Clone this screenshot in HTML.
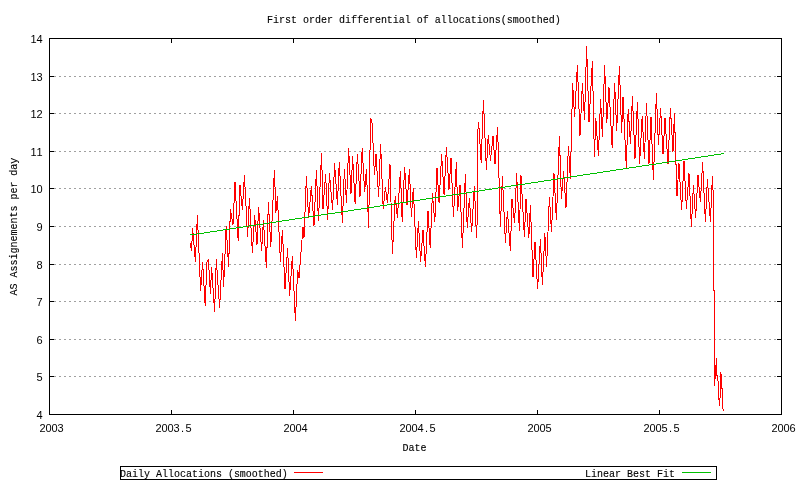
<!DOCTYPE html>
<html><head><meta charset="utf-8"><title>First order differential of allocations(smoothed)</title>
<style>html,body{margin:0;padding:0;background:#fff;}svg{display:block;}</style></head>
<body>
<svg width="800" height="480" viewBox="0 0 800 480">
<rect width="800" height="480" fill="#fff"/>
<g shape-rendering="crispEdges" stroke="#a0a0a0" stroke-width="1" stroke-dasharray="2 3" fill="none">
<line x1="49" y1="76.5" x2="782" y2="76.5"/>
<line x1="49" y1="113.5" x2="782" y2="113.5"/>
<line x1="49" y1="151.5" x2="782" y2="151.5"/>
<line x1="49" y1="188.5" x2="782" y2="188.5"/>
<line x1="49" y1="226.5" x2="782" y2="226.5"/>
<line x1="49" y1="264.5" x2="782" y2="264.5"/>
<line x1="49" y1="301.5" x2="782" y2="301.5"/>
<line x1="49" y1="339.5" x2="782" y2="339.5"/>
<line x1="49" y1="376.5" x2="782" y2="376.5"/>
</g>
<polyline shape-rendering="crispEdges" points="190.2,243.0 191.6,251.0 192.6,228.0 195.4,261.5 197.4,215.0 200.6,291.0 202.6,262.0 205.2,305.6 206.9,262.5 208.4,259.6 210.4,293.5 211.6,267.0 214.6,312.0 216.3,259.5 219.6,308.0 222.4,253.0 223.6,287.0 226.2,226.0 228.6,266.5 230.4,209.0 233.0,225.0 235.0,182.0 238.2,241.0 240.0,185.0 242.4,210.0 244.4,175.0 247.6,237.0 249.4,198.0 252.4,253.0 254.6,215.0 257.0,244.5 258.6,207.0 261.6,251.0 263.4,220.0 266.4,268.0 268.4,202.0 270.8,247.0 274.4,170.0 275.9,212.5 277.4,196.4 280.4,262.0 282.4,230.0 285.0,289.0 287.6,248.4 289.6,296.4 292.4,256.0 295.4,321.4 297.6,270.0 299.0,278.0 303.0,227.0 304.0,238.0 306.4,176.0 308.6,218.0 311.4,186.0 314.0,226.0 316.4,170.0 318.4,221.0 321.6,153.0 323.0,209.0 325.6,174.0 327.6,220.0 329.4,173.0 332.6,210.0 334.6,163.5 337.4,205.0 339.3,162.0 342.4,222.5 344.4,169.0 346.5,203.0 348.6,148.0 351.0,194.0 352.6,156.0 355.1,204.0 357.4,154.0 360.0,197.0 362.2,148.0 364.6,192.0 366.4,169.0 368.6,227.6 370.6,118.0 372.2,123.6 374.4,175.0 376.0,154.0 378.6,196.5 380.6,144.0 383.2,209.0 385.4,187.0 387.4,203.0 390.0,164.0 392.4,254.4 395.2,196.5 397.4,218.0 400.4,171.0 402.2,222.4 404.6,167.0 407.0,205.0 409.4,169.0 411.4,217.0 413.3,188.0 416.4,258.4 418.4,221.4 420.6,262.0 423.0,230.0 425.4,267.4 428.0,211.0 430.2,248.4 432.4,193.0 434.8,222.4 437.0,168.0 439.1,203.0 441.6,154.0 444.1,195.0 446.4,147.0 449.0,189.5 451.0,158.0 453.4,217.0 456.4,162.0 457.6,211.0 460.0,185.0 462.4,248.4 465.4,174.0 467.2,228.0 469.4,198.0 471.6,232.4 474.4,186.0 476.5,238.0 477.4,215.0 477.5,135.0 478.6,122.0 481.2,162.5 483.4,100.0 486.4,170.0 488.2,135.0 490.5,160.5 493.0,136.0 495.0,164.4 497.6,127.0 500.4,227.0 502.4,176.0 505.4,243.0 507.4,211.0 510.4,251.3 512.0,199.0 514.6,223.0 516.6,173.0 519.4,231.0 521.0,175.3 524.4,237.0 526.0,199.0 528.8,238.0 530.4,205.0 533.0,277.0 535.0,242.0 537.6,289.4 540.4,239.2 542.4,285.4 544.8,233.2 546.6,267.0 549.4,197.0 551.5,232.0 554.0,173.3 556.4,220.0 559.4,136.0 561.4,199.0 563.6,171.5 566.0,208.0 568.4,146.0 570.4,179.0 572.6,83.0 574.6,117.0 577.4,65.0 580.0,136.0 582.4,83.0 584.5,120.0 586.6,46.0 589.0,122.0 592.4,61.0 594.4,157.0 595.8,118.0 598.4,156.0 600.6,99.0 602.4,137.0 604.6,65.0 606.8,122.5 609.0,87.4 612.2,148.0 614.6,83.0 616.7,130.5 619.4,66.0 621.6,133.0 623.0,97.0 626.3,167.5 628.2,109.0 630.5,144.0 632.4,96.0 635.0,159.0 637.4,102.0 639.6,164.0 642.2,116.0 644.4,159.0 646.5,103.0 649.0,164.0 651.0,117.0 653.4,180.4 656.4,93.0 658.4,145.0 660.6,108.0 663.0,154.0 665.0,118.0 668.0,164.2 670.4,108.0 673.0,152.0 674.4,113.0 677.0,196.0 679.0,163.5 681.6,210.4 684.0,161.0 686.4,208.5 689.0,173.3 691.4,227.4 693.4,185.0 695.6,218.0 698.0,175.3 700.4,202.0 702.6,162.2 705.4,222.0 707.4,179.0 710.4,222.0 712.4,176.0 712.6,190.0" fill="none" stroke="#ff0000" stroke-width="1" stroke-linejoin="bevel"/>
<path shape-rendering="crispEdges" d="M713.5 190V291 M714.5 290V386 M715.5 365V379 M716.5 358V376 M717.5 375V381 M718.5 381V400 M719.5 398V406 M720.5 372V398 M721.5 374V389 M722.5 388V409 M723.5 409V411" stroke="#ff0000" stroke-width="1" fill="none"/>
<path shape-rendering="crispEdges" d="M190 234.5H197 M197 233.5H204 M204 232.5H210 M210 231.5H217 M217 230.5H223 M223 229.5H230 M230 228.5H236 M236 227.5H243 M243 226.5H249 M249 225.5H256 M256 224.5H263 M263 223.5H269 M269 222.5H276 M276 221.5H282 M282 220.5H289 M289 219.5H295 M295 218.5H302 M302 217.5H308 M308 216.5H315 M315 215.5H321 M321 214.5H328 M328 213.5H335 M335 212.5H341 M341 211.5H348 M348 210.5H354 M354 209.5H361 M361 208.5H367 M367 207.5H374 M374 206.5H380 M380 205.5H387 M387 204.5H394 M394 203.5H400 M400 202.5H407 M407 201.5H413 M413 200.5H420 M420 199.5H426 M426 198.5H433 M433 197.5H439 M439 196.5H446 M446 195.5H452 M452 194.5H459 M459 193.5H466 M466 192.5H472 M472 191.5H479 M479 190.5H485 M485 189.5H492 M492 188.5H498 M498 187.5H505 M505 186.5H511 M511 185.5H518 M518 184.5H525 M525 183.5H531 M531 182.5H538 M538 181.5H544 M544 180.5H551 M551 179.5H557 M557 178.5H564 M564 177.5H570 M570 176.5H577 M577 175.5H583 M583 174.5H590 M590 173.5H597 M597 172.5H603 M603 171.5H610 M610 170.5H616 M616 169.5H623 M623 168.5H629 M629 167.5H636 M636 166.5H642 M642 165.5H649 M649 164.5H656 M656 163.5H662 M662 162.5H669 M669 161.5H675 M675 160.5H682 M682 159.5H688 M688 158.5H695 M695 157.5H701 M701 156.5H708 M708 155.5H714 M714 154.5H721 M721 153.5H724" stroke="#00c000" stroke-width="1" fill="none"/>
<g shape-rendering="crispEdges" stroke="#000" stroke-width="1" fill="none">
<rect x="49.5" y="38.5" width="732" height="376"/>
<line x1="50" y1="38.5" x2="54" y2="38.5"/>
<line x1="777" y1="38.5" x2="781" y2="38.5"/>
<line x1="50" y1="76.5" x2="54" y2="76.5"/>
<line x1="777" y1="76.5" x2="781" y2="76.5"/>
<line x1="50" y1="113.5" x2="54" y2="113.5"/>
<line x1="777" y1="113.5" x2="781" y2="113.5"/>
<line x1="50" y1="151.5" x2="54" y2="151.5"/>
<line x1="777" y1="151.5" x2="781" y2="151.5"/>
<line x1="50" y1="188.5" x2="54" y2="188.5"/>
<line x1="777" y1="188.5" x2="781" y2="188.5"/>
<line x1="50" y1="226.5" x2="54" y2="226.5"/>
<line x1="777" y1="226.5" x2="781" y2="226.5"/>
<line x1="50" y1="264.5" x2="54" y2="264.5"/>
<line x1="777" y1="264.5" x2="781" y2="264.5"/>
<line x1="50" y1="301.5" x2="54" y2="301.5"/>
<line x1="777" y1="301.5" x2="781" y2="301.5"/>
<line x1="50" y1="339.5" x2="54" y2="339.5"/>
<line x1="777" y1="339.5" x2="781" y2="339.5"/>
<line x1="50" y1="376.5" x2="54" y2="376.5"/>
<line x1="777" y1="376.5" x2="781" y2="376.5"/>
<line x1="50" y1="414.5" x2="54" y2="414.5"/>
<line x1="777" y1="414.5" x2="781" y2="414.5"/>
<line x1="49.5" y1="410" x2="49.5" y2="414"/>
<line x1="49.5" y1="39" x2="49.5" y2="43"/>
<line x1="171.5" y1="410" x2="171.5" y2="414"/>
<line x1="171.5" y1="39" x2="171.5" y2="43"/>
<line x1="293.5" y1="410" x2="293.5" y2="414"/>
<line x1="293.5" y1="39" x2="293.5" y2="43"/>
<line x1="415.5" y1="410" x2="415.5" y2="414"/>
<line x1="415.5" y1="39" x2="415.5" y2="43"/>
<line x1="537.5" y1="410" x2="537.5" y2="414"/>
<line x1="537.5" y1="39" x2="537.5" y2="43"/>
<line x1="659.5" y1="410" x2="659.5" y2="414"/>
<line x1="659.5" y1="39" x2="659.5" y2="43"/>
<line x1="781.5" y1="410" x2="781.5" y2="414"/>
<line x1="781.5" y1="39" x2="781.5" y2="43"/>
<rect x="120.5" y="466.5" width="596" height="13"/>
</g>
<line shape-rendering="crispEdges" x1="294" y1="472.5" x2="323" y2="472.5" stroke="#ff0000"/>
<line shape-rendering="crispEdges" x1="682" y1="472.5" x2="711" y2="472.5" stroke="#00c000"/>
<g font-family="'Liberation Mono', monospace" font-size="11px" fill="#000" stroke="#000" stroke-width="0.12">
<text transform="translate(267,23) scale(0.9089,1)" x="0" y="0">First order differential of allocations(smoothed)</text>
<text font-family="'Liberation Sans', sans-serif" font-size="11px" stroke-width="0" text-anchor="middle" x="33.5 39.5" y="43">14</text>
<text font-family="'Liberation Sans', sans-serif" font-size="11px" stroke-width="0" text-anchor="middle" x="33.5 39.5" y="81">13</text>
<text font-family="'Liberation Sans', sans-serif" font-size="11px" stroke-width="0" text-anchor="middle" x="33.5 39.5" y="118">12</text>
<text font-family="'Liberation Sans', sans-serif" font-size="11px" stroke-width="0" text-anchor="middle" x="33.5 39.5" y="156">11</text>
<text font-family="'Liberation Sans', sans-serif" font-size="11px" stroke-width="0" text-anchor="middle" x="33.5 39.5" y="193">10</text>
<text font-family="'Liberation Sans', sans-serif" font-size="11px" stroke-width="0" text-anchor="middle" x="39.5" y="231">9</text>
<text font-family="'Liberation Sans', sans-serif" font-size="11px" stroke-width="0" text-anchor="middle" x="39.5" y="269">8</text>
<text font-family="'Liberation Sans', sans-serif" font-size="11px" stroke-width="0" text-anchor="middle" x="39.5" y="306">7</text>
<text font-family="'Liberation Sans', sans-serif" font-size="11px" stroke-width="0" text-anchor="middle" x="39.5" y="344">6</text>
<text font-family="'Liberation Sans', sans-serif" font-size="11px" stroke-width="0" text-anchor="middle" x="39.5" y="381">5</text>
<text font-family="'Liberation Sans', sans-serif" font-size="11px" stroke-width="0" text-anchor="middle" x="39.5" y="419">4</text>
<text font-family="'Liberation Sans', sans-serif" font-size="11px" stroke-width="0" text-anchor="middle" x="42.5 48.5 54.5 60.5" y="432">2003</text>
<text font-family="'Liberation Sans', sans-serif" font-size="11px" stroke-width="0" text-anchor="middle" x="158.5 164.5 170.5 176.5 182.5 188.5" y="432">2003.5</text>
<text font-family="'Liberation Sans', sans-serif" font-size="11px" stroke-width="0" text-anchor="middle" x="286.5 292.5 298.5 304.5" y="432">2004</text>
<text font-family="'Liberation Sans', sans-serif" font-size="11px" stroke-width="0" text-anchor="middle" x="402.5 408.5 414.5 420.5 426.5 432.5" y="432">2004.5</text>
<text font-family="'Liberation Sans', sans-serif" font-size="11px" stroke-width="0" text-anchor="middle" x="530.5 536.5 542.5 548.5" y="432">2005</text>
<text font-family="'Liberation Sans', sans-serif" font-size="11px" stroke-width="0" text-anchor="middle" x="646.5 652.5 658.5 664.5 670.5 676.5" y="432">2005.5</text>
<text font-family="'Liberation Sans', sans-serif" font-size="11px" stroke-width="0" text-anchor="middle" x="774.5 780.5 786.5 792.5" y="432">2006</text>
<text transform="translate(402.5,451) scale(0.9089,1)" x="0" y="0">Date</text>
<text transform="translate(17,295.5) rotate(-90) scale(0.9089,1)" x="0" y="0">AS Assignements per day</text>
<text transform="translate(120,477) scale(0.9089,1)" x="0" y="0">Daily Allocations (smoothed)</text>
<text transform="translate(585,477) scale(0.9089,1)" x="0" y="0">Linear Best Fit</text>
</g>
</svg>
</body></html>
